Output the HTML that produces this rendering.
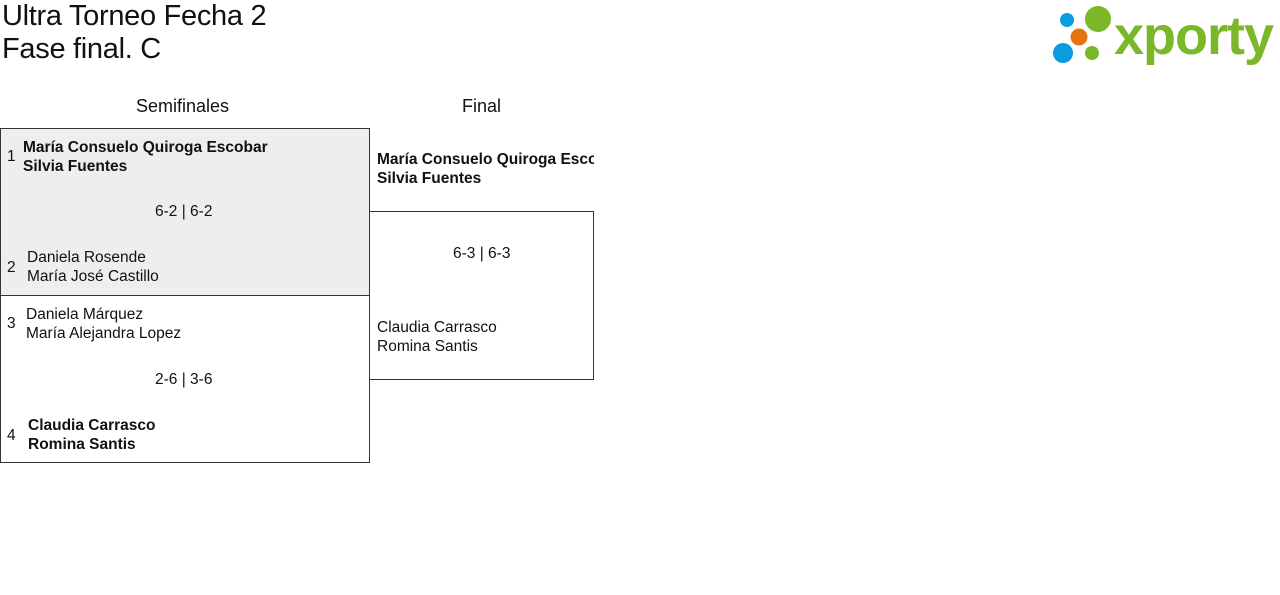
<!DOCTYPE html>
<html><head><meta charset="utf-8"><style>
body{margin:0;width:1280px;height:595px;background:#fff;font-family:"Liberation Sans",sans-serif;color:#111;position:relative;overflow:hidden}
.a{position:absolute;white-space:nowrap}
.t{font-size:29px;left:2px;letter-spacing:-0.3px}
.h{font-size:18px;top:96px}
.n{font-size:15.5px;line-height:19px}
.b{font-weight:bold}
.s{font-size:15.5px}
</style></head><body>
<div class="a t" style="top:0px">Ultra Torneo Fecha 2</div>
<div class="a t" style="top:33px">Fase final. C</div>
<svg class="a" style="left:1050px;top:4px" width="226" height="62">
<circle cx="17" cy="16" r="7" fill="#0a9be0"/>
<circle cx="48" cy="15" r="13" fill="#7ab829"/>
<circle cx="29" cy="33" r="8.5" fill="#e5730f"/>
<circle cx="13" cy="49" r="10" fill="#0a9be0"/>
<circle cx="42" cy="49" r="7" fill="#7ab829"/>
<text x="64" y="50" font-family="Liberation Sans" font-weight="bold" font-size="54" fill="#7ab829" letter-spacing="-1">xporty</text>
</svg>
<div class="a h" style="left:136px">Semifinales</div>
<div class="a h" style="left:462px">Final</div>
<div class="a" style="left:0;top:128px;width:368px;height:166px;background:#eee;border:1px solid #333"></div>
<div class="a" style="left:0;top:295px;width:368px;height:167px;border:1px solid #333;border-top:none"></div>
<div class="a" style="left:369px;top:211px;width:224px;height:167px;border:1px solid #333;border-left:none"></div>
<div class="a s" style="left:7px;top:148px">1</div>
<div class="a n b" style="left:23px;top:138px">María Consuelo Quiroga Escobar<br>Silvia Fuentes</div>
<div class="a s" style="left:155px;top:203px">6-2 | 6-2</div>
<div class="a s" style="left:7px;top:259px">2</div>
<div class="a n" style="left:27px;top:248px">Daniela Rosende<br>María José Castillo</div>
<div class="a s" style="left:7px;top:315px">3</div>
<div class="a n" style="left:26px;top:305px">Daniela Márquez<br>María Alejandra Lopez</div>
<div class="a s" style="left:155px;top:371px">2-6 | 3-6</div>
<div class="a s" style="left:7px;top:427px">4</div>
<div class="a n b" style="left:28px;top:416px">Claudia Carrasco<br>Romina Santis</div>
<div class="a n b" style="left:377px;top:150px;width:217px;overflow:hidden">María Consuelo Quiroga Escobar<br>Silvia Fuentes</div>
<div class="a s" style="left:453px;top:245px">6-3 | 6-3</div>
<div class="a n" style="left:377px;top:318px">Claudia Carrasco<br>Romina Santis</div>
</body></html>
